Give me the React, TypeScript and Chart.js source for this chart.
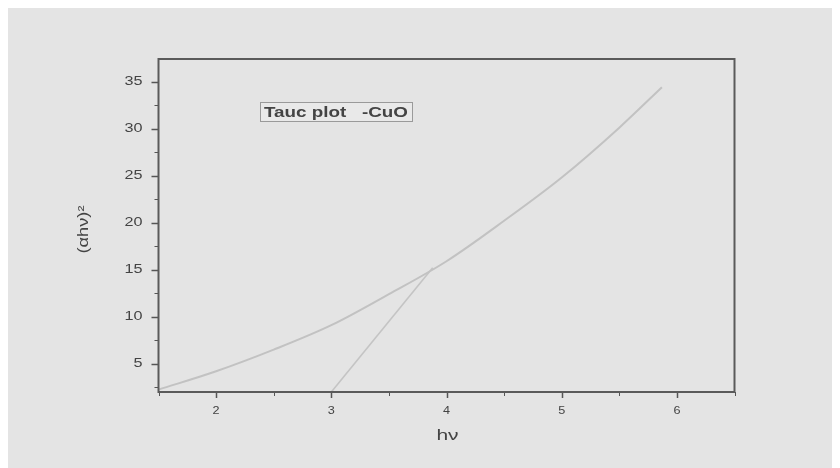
import React, { useEffect, useRef } from "react";
import { Chart, registerables } from "chart.js";

Chart.register(...registerables);

const curveX = [1.5, 2.0, 2.5, 3.0, 3.5, 4.0, 4.5, 5.0, 5.5, 5.87];
const curveY = [2.25, 4.2, 6.5, 9.1, 12.4, 15.9, 20.2, 24.8, 30.1, 34.4];
const tangentX = [3.0, 3.88];
const tangentY = [2.0, 15.2];
const xTicks = [2, 3, 4, 5, 6];
const yTicks = [5, 10, 15, 20, 25, 30, 35];
const xMinor = [1.5, 2.5, 3.5, 4.5, 5.5, 6.5];
const yMinor = [2.5, 7.5, 12.5, 17.5, 22.5, 27.5, 32.5];
const titleText = "Tauc plot   -CuO";
const xTitle = "hν";
const yTitle = "(αhν)²";

const FONT = "'Liberation Sans', Arial, sans-serif";

function stretchedText(
  ctx: CanvasRenderingContext2D,
  text: string,
  x: number,
  y: number,
  sx: number,
  align: CanvasTextAlign
) {
  ctx.save();
  ctx.translate(x, y);
  ctx.scale(sx, 1);
  ctx.textAlign = align;
  ctx.textBaseline = "middle";
  ctx.fillText(text, 0, 0);
  ctx.restore();
}

const framePlugin = {
  id: "frame",
  afterDatasetsDraw(chart: any) {
    const { ctx, chartArea: a, scales } = chart;
    const xs = scales.x;
    const ys = scales.y;
    ctx.save();
    ctx.strokeStyle = "#555";
    ctx.lineWidth = 1.5;
    // major ticks
    ctx.beginPath();
    xTicks.forEach((v) => {
      const px = Math.round(xs.getPixelForValue(v)) + 0.5;
      ctx.moveTo(px, a.bottom);
      ctx.lineTo(px, a.bottom + 6);
    });
    yTicks.forEach((v) => {
      const py = Math.round(ys.getPixelForValue(v)) + 0.5;
      ctx.moveTo(a.left, py);
      ctx.lineTo(a.left - 7, py);
    });
    ctx.stroke();
    ctx.lineWidth = 1;
    ctx.beginPath();
    xMinor.forEach((v) => {
      const px = Math.round(xs.getPixelForValue(v)) + 0.5;
      ctx.moveTo(px, a.bottom);
      ctx.lineTo(px, a.bottom + 4);
    });
    yMinor.forEach((v) => {
      const py = Math.round(ys.getPixelForValue(v)) + 0.5;
      ctx.moveTo(a.left, py);
      ctx.lineTo(a.left - 4, py);
    });
    ctx.stroke();
    // frame
    ctx.lineWidth = 2;
    ctx.strokeStyle = "#5a5a5a";
    ctx.strokeRect(a.left, a.top, a.right - a.left, a.bottom - a.top);

    // tick labels
    ctx.fillStyle = "#444";
    ctx.font = `12px ${FONT}`;
    yTicks.forEach((v) => {
      stretchedText(ctx, String(v), a.left - 16, ys.getPixelForValue(v), 1.35, "right");
    });
    ctx.font = `11px ${FONT}`;
    xTicks.forEach((v) => {
      stretchedText(ctx, String(v), xs.getPixelForValue(v), a.bottom + 19, 1.15, "center");
    });
    // axis titles
    ctx.font = `15px ${FONT}`;
    stretchedText(ctx, xTitle, (a.left + a.right) / 2 + 1, a.bottom + 44, 1.4, "center");
    ctx.save();
    ctx.translate(a.left - 74, (a.top + a.bottom) / 2 + 4);
    ctx.rotate(-Math.PI / 2);
    ctx.font = `13px ${FONT}`;
    const yw = ctx.measureText(yTitle).width;
    ctx.scale(48 / yw, 1.1);
    ctx.textAlign = "center";
    ctx.textBaseline = "middle";
    ctx.fillText(yTitle, 0, 0);
    ctx.restore();

    // title box
    ctx.font = `bold 15px ${FONT}`;
    const bx = 252;
    const by = 94;
    const bw = 152;
    const bh = 19;
    const tw = ctx.measureText(titleText).width;
    ctx.fillStyle = "#e9e9e9";
    ctx.fillRect(bx, by, bw, bh);
    ctx.lineWidth = 1;
    ctx.strokeStyle = "#9a9a9a";
    ctx.strokeRect(bx + 0.5, by + 0.5, bw, bh);
    ctx.fillStyle = "#444";
    stretchedText(ctx, titleText, bx + 4, by + 10.5, (bw - 8) / tw, "left");
    ctx.restore();
  },
};

export default function App() {
  const ref = useRef<HTMLCanvasElement>(null);
  useEffect(() => {
    if (!ref.current) return;
    const chart = new Chart(ref.current, {
      type: "scatter",
      data: {
        datasets: [
          {
            data: curveX.map((x, i) => ({ x, y: curveY[i] })),
            showLine: true,
            borderColor: "#c2c2c2",
            borderWidth: 2,
            pointRadius: 0,
            cubicInterpolationMode: "monotone",
          },
          {
            data: tangentX.map((x, i) => ({ x, y: tangentY[i] })),
            showLine: true,
            borderColor: "#c4c4c4",
            borderWidth: 1.6,
            pointRadius: 0,
          },
        ],
      },
      options: {
        animation: false,
        responsive: false,
        layout: { padding: { left: 0, right: 105.5, top: 51, bottom: 0 } },
        plugins: { legend: { display: false }, tooltip: { enabled: false } },
        scales: {
          x: {
            type: "linear",
            min: 1.5,
            max: 6.5,
            afterBuildTicks: (s: any) => {
              s.ticks = xTicks.map((v) => ({ value: v }));
            },
            afterFit: (s: any) => {
              s.height = 76;
            },
            grid: { display: false },
            border: { display: false },
            ticks: { display: false },
          },
          y: {
            type: "linear",
            min: 2,
            max: 37.4,
            afterBuildTicks: (s: any) => {
              s.ticks = yTicks.map((v) => ({ value: v }));
            },
            afterFit: (s: any) => {
              s.width = 150.5;
            },
            grid: { display: false },
            border: { display: false },
            ticks: { display: false },
          },
        },
      },
      plugins: [framePlugin],
    } as any);
    return () => chart.destroy();
  }, []);
  return (
    <div style={{ width: 832, height: 460, background: "#e4e4e4" }}>
      <canvas ref={ref} width={832} height={460} style={{ display: "block" }} />
    </div>
  );
}
